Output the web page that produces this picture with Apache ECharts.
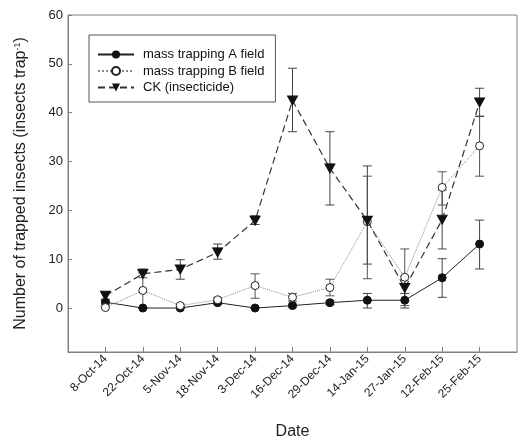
<!DOCTYPE html>
<html><head><meta charset="utf-8">
<script src="https://cdn.jsdelivr.net/npm/echarts@6/dist/echarts.min.js"></script>
<style>html,body{margin:0;padding:0;background:#fff}#c{width:518px;height:437px}</style>
</head><body><div id="c"></div>
<script>
const categories = ['8-Oct-14','22-Oct-14','5-Nov-14','18-Nov-14','3-Dec-14','16-Dec-14','29-Dec-14','14-Jan-15','27-Jan-15','12-Feb-15','25-Feb-15'];
const yTicks = [0,10,20,30,40,50,60];
const seriesNames = ['mass trapping A field','mass trapping B field','CK (insecticide)'];
const meanA = [1.2, 0, 0, 1.1, 0, 0.5, 1.1, 1.6, 1.6, 6.2, 13.1];
const lowA  = [0.8, 0, 0, 0.8, 0, 0.2, 0.7, 0, 0, 2.2, 8.0];
const highA = [1.6, 0, 0, 1.4, 0, 0.8, 1.5, 3.0, 3.0, 10.1, 18.0];
const meanB = [0.1, 3.6, 0.5, 1.7, 4.6, 2.2, 4.2, 17.7, 6.3, 24.7, 33.2];
const lowB  = [0, 0, 0.2, 1.3, 2.0, 1.4, 2.5, 6.0, 0.5, 21.1, 27.0];
const highB = [0.3, 7.2, 0.8, 2.1, 7.0, 3.0, 5.9, 27.0, 12.1, 27.9, 39.3];
const meanCK = [2.5, 7.0, 7.9, 11.4, 17.9, 42.5, 28.6, 17.9, 4.1, 18.1, 42.1];
const lowCK  = [1.8, 6.2, 5.9, 10.0, 17.1, 36.1, 21.1, 9.0, 1.5, 12.1, 39.2];
const highCK = [3.2, 8.0, 9.9, 13.1, 18.9, 49.1, 36.1, 29.1, 6.5, 24.2, 45.0];

const xPos = categories.map((c, i) => i + 1);
const pts = arr => arr.map((v, i) => [xPos[i], v]);
const errData = (lo, hi) => lo.map((v, i) => [xPos[i], v, hi[i]]);

function errSeries(lo, hi, color) {
  return {
    type: 'custom', z: 1, silent: true,
    data: errData(lo, hi),
    encode: {x: 0, y: [1, 2]},
    renderItem: function (params, api) {
      const x = api.value(0);
      const p1 = api.coord([x, api.value(1)]);
      const p2 = api.coord([x, api.value(2)]);
      const w = 4.5;
      const st = {stroke: color, lineWidth: 1};
      return {type: 'group', children: [
        {type: 'line', shape: {x1: p1[0], y1: p1[1], x2: p2[0], y2: p2[1]}, style: st},
        {type: 'line', shape: {x1: p1[0]-w, y1: p1[1], x2: p1[0]+w, y2: p1[1]}, style: st},
        {type: 'line', shape: {x1: p2[0]-w, y1: p2[1], x2: p2[0]+w, y2: p2[1]}, style: st}
      ]};
    }
  };
}

const font = 'Liberation Sans, Arial, sans-serif';
const chart = echarts.init(document.getElementById('c'), null, {renderer: 'canvas'});
chart.setOption({
  animation: false,
  textStyle: {fontFamily: font},
  grid: {left: 68, right: 1, top: 15, bottom: 85, show: true, borderColor: '#808080', borderWidth: 1,
    containLabel: false, outerBoundsMode: 'none'},
  legend: {
    orient: 'vertical', left: 89, top: 35,
    data: seriesNames,
    padding: [13, 11, 8, 8],
    itemGap: 3.5, itemWidth: 36, itemHeight: 10,
    borderColor: '#555', borderWidth: 1,
    textStyle: {fontFamily: font, fontSize: 13, color: '#111', padding: [0, 0, 0, 4]}
  },
  xAxis: {
    type: 'value', min: 0, max: 12, interval: 1,
    name: 'Date', nameLocation: 'middle', nameGap: 72,
    nameTextStyle: {fontFamily: font, fontSize: 16, color: '#222'},
    axisLine: {onZero: false, lineStyle: {color: '#808080'}},
    axisTick: {inside: true, length: 5, lineStyle: {color: '#808080'}, customValues: xPos},
    axisLabel: {rotate: 45, fontSize: 12, color: '#222', margin: 5, customValues: xPos,
      formatter: v => categories[Math.round(v) - 1] || ''},
    splitLine: {show: false}
  },
  yAxis: {
    type: 'value', min: -9, max: 60,
    name: 'Number of trapped insects (insects trap{sup|-1})',
    nameLocation: 'middle', nameGap: 39, nameRotate: 90,
    nameTextStyle: {fontFamily: font, fontSize: 16, color: '#222',
      rich: {sup: {fontSize: 9, fontFamily: font, color: '#222', verticalAlign: 'top', padding: [0, 0, 7, 0]}}},
    axisLine: {show: true, onZero: false, lineStyle: {color: '#808080'}},
    axisTick: {show: true, inside: true, length: 4, lineStyle: {color: '#808080'}, customValues: yTicks},
    axisLabel: {fontSize: 13, color: '#222', margin: 5, customValues: yTicks},
    splitLine: {show: false}
  },
  series: [
    errSeries(lowA, highA, '#444'),
    errSeries(lowB, highB, '#555'),
    errSeries(lowCK, highCK, '#444'),
    {name: seriesNames[0], type: 'line', z: 3, data: pts(meanA), symbol: 'circle', symbolSize: 8,
      lineStyle: {color: '#222', width: 1, type: 'solid'}, itemStyle: {color: '#111', borderColor: '#111'}},
    {name: seriesNames[1], type: 'line', z: 4, data: pts(meanB), symbol: 'circle', symbolSize: 8,
      lineStyle: {color: '#888', width: 1, type: 'dotted'}, itemStyle: {color: '#fff', borderColor: '#222', borderWidth: 1}},
    {name: seriesNames[2], type: 'line', z: 5, data: pts(meanCK), symbol: 'path://M0,0 L10,0 L5,9 Z', symbolSize: [10, 9],
      lineStyle: {color: '#333', width: 1.2, type: [7, 4]}, itemStyle: {color: '#111', borderColor: '#111'}}
  ]
});
</script></body></html>
